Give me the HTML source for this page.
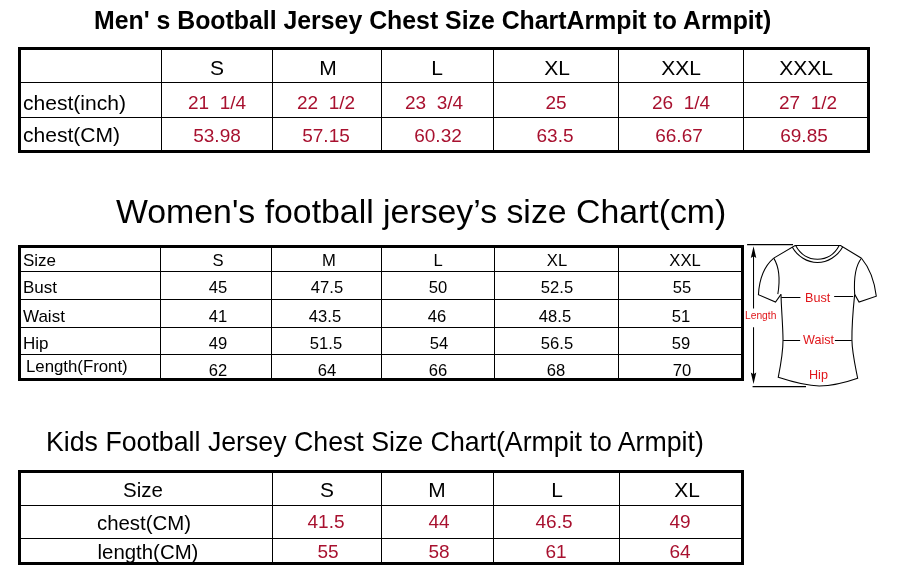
<!DOCTYPE html>
<html><head><meta charset="utf-8"><title>Size Chart</title>
<style>
html,body{margin:0;padding:0;background:#fff;}
body{width:901px;height:585px;position:relative;overflow:hidden;font-family:"Liberation Sans",sans-serif;}
.l{position:absolute;}
.t{position:absolute;white-space:nowrap;line-height:1.149;will-change:transform;}
</style></head><body>
<div class="t" style="top:6.85px;font-size:24.85px;color:#000;font-weight:bold;left:94.25px;">Men' s Bootball Jersey Chest Size ChartArmpit to Armpit)</div>
<div class="t" style="top:191.83px;font-size:33.82px;color:#000;left:115.60px;">Women's football jersey’s size Chart(cm)</div>
<div class="t" style="top:427.47px;font-size:26.73px;color:#000;left:46.00px;">Kids Football Jersey Chest Size Chart(Armpit to Armpit)</div>
<div class="l" style="left:18px;top:47px;width:852px;height:3px;background:#000"></div>
<div class="l" style="left:18px;top:150px;width:852px;height:3px;background:#000"></div>
<div class="l" style="left:18px;top:47px;width:3px;height:106px;background:#000"></div>
<div class="l" style="left:867px;top:47px;width:3px;height:106px;background:#000"></div>
<div class="l" style="left:161px;top:47px;width:1px;height:106px;background:#000"></div>
<div class="l" style="left:272px;top:47px;width:1px;height:106px;background:#000"></div>
<div class="l" style="left:381px;top:47px;width:1px;height:106px;background:#000"></div>
<div class="l" style="left:493px;top:47px;width:1px;height:106px;background:#000"></div>
<div class="l" style="left:618px;top:47px;width:1px;height:106px;background:#000"></div>
<div class="l" style="left:743px;top:47px;width:1px;height:106px;background:#000"></div>
<div class="l" style="left:18px;top:82px;width:852px;height:1px;background:#000"></div>
<div class="l" style="left:18px;top:117px;width:852px;height:1px;background:#000"></div>
<div class="t" style="top:56.35px;font-size:21px;color:#000;left:66.50px;width:300px;text-align:center;">S</div>
<div class="t" style="top:56.35px;font-size:21px;color:#000;left:178.30px;width:300px;text-align:center;">M</div>
<div class="t" style="top:56.35px;font-size:21px;color:#000;left:287.20px;width:300px;text-align:center;">L</div>
<div class="t" style="top:56.35px;font-size:21px;color:#000;left:407.30px;width:300px;text-align:center;">XL</div>
<div class="t" style="top:56.35px;font-size:21px;color:#000;left:531.00px;width:300px;text-align:center;">XXL</div>
<div class="t" style="top:56.35px;font-size:21px;color:#000;left:655.50px;width:300px;text-align:center;">XXXL</div>
<div class="t" style="top:91.99px;font-size:19px;color:#a8112f;left:66.50px;width:300px;text-align:center;">21&nbsp; 1/4</div>
<div class="t" style="top:91.99px;font-size:19px;color:#a8112f;left:176.00px;width:300px;text-align:center;">22&nbsp; 1/2</div>
<div class="t" style="top:91.99px;font-size:19px;color:#a8112f;left:284.00px;width:300px;text-align:center;">23&nbsp; 3/4</div>
<div class="t" style="top:91.99px;font-size:19px;color:#a8112f;left:405.90px;width:300px;text-align:center;">25</div>
<div class="t" style="top:91.99px;font-size:19px;color:#a8112f;left:530.50px;width:300px;text-align:center;">26&nbsp; 1/4</div>
<div class="t" style="top:91.99px;font-size:19px;color:#a8112f;left:657.70px;width:300px;text-align:center;">27&nbsp; 1/2</div>
<div class="t" style="top:124.59px;font-size:19px;color:#a8112f;left:66.50px;width:300px;text-align:center;">53.98</div>
<div class="t" style="top:124.59px;font-size:19px;color:#a8112f;left:176.00px;width:300px;text-align:center;">57.15</div>
<div class="t" style="top:124.59px;font-size:19px;color:#a8112f;left:287.50px;width:300px;text-align:center;">60.32</div>
<div class="t" style="top:124.59px;font-size:19px;color:#a8112f;left:404.90px;width:300px;text-align:center;">63.5</div>
<div class="t" style="top:124.59px;font-size:19px;color:#a8112f;left:528.50px;width:300px;text-align:center;">66.67</div>
<div class="t" style="top:124.59px;font-size:19px;color:#a8112f;left:653.80px;width:300px;text-align:center;">69.85</div>
<div class="t" style="top:91.20px;font-size:21.05px;color:#000;left:22.90px;">chest(inch)</div>
<div class="t" style="top:122.60px;font-size:21.05px;color:#000;left:22.90px;">chest(CM)</div>
<div class="l" style="left:18px;top:245px;width:726px;height:3px;background:#000"></div>
<div class="l" style="left:18px;top:378px;width:726px;height:3px;background:#000"></div>
<div class="l" style="left:18px;top:245px;width:3px;height:136px;background:#000"></div>
<div class="l" style="left:741px;top:245px;width:3px;height:136px;background:#000"></div>
<div class="l" style="left:160px;top:245px;width:1px;height:136px;background:#000"></div>
<div class="l" style="left:271px;top:245px;width:1px;height:136px;background:#000"></div>
<div class="l" style="left:381px;top:245px;width:1px;height:136px;background:#000"></div>
<div class="l" style="left:494px;top:245px;width:1px;height:136px;background:#000"></div>
<div class="l" style="left:618px;top:245px;width:1px;height:136px;background:#000"></div>
<div class="l" style="left:18px;top:271px;width:726px;height:1px;background:#000"></div>
<div class="l" style="left:18px;top:299px;width:726px;height:1px;background:#000"></div>
<div class="l" style="left:18px;top:327px;width:726px;height:1px;background:#000"></div>
<div class="l" style="left:18px;top:354px;width:726px;height:1px;background:#000"></div>
<div class="t" style="top:250.83px;font-size:17.0px;color:#000;left:23.40px;">Size</div>
<div class="t" style="top:250.80px;font-size:16.6px;color:#000;left:68.00px;width:300px;text-align:center;">S</div>
<div class="t" style="top:250.80px;font-size:16.6px;color:#000;left:179.00px;width:300px;text-align:center;">M</div>
<div class="t" style="top:250.80px;font-size:16.6px;color:#000;left:288.20px;width:300px;text-align:center;">L</div>
<div class="t" style="top:250.80px;font-size:16.6px;color:#000;left:407.20px;width:300px;text-align:center;">XL</div>
<div class="t" style="top:250.80px;font-size:16.6px;color:#000;left:534.50px;width:300px;text-align:center;">XXL</div>
<div class="t" style="top:277.83px;font-size:17.0px;color:#000;left:23.40px;">Bust</div>
<div class="t" style="top:278.10px;font-size:16.6px;color:#000;left:67.80px;width:300px;text-align:center;">45</div>
<div class="t" style="top:278.10px;font-size:16.6px;color:#000;left:177.00px;width:300px;text-align:center;">47.5</div>
<div class="t" style="top:278.10px;font-size:16.6px;color:#000;left:288.10px;width:300px;text-align:center;">50</div>
<div class="t" style="top:278.10px;font-size:16.6px;color:#000;left:406.80px;width:300px;text-align:center;">52.5</div>
<div class="t" style="top:278.10px;font-size:16.6px;color:#000;left:532.00px;width:300px;text-align:center;">55</div>
<div class="t" style="top:306.83px;font-size:17.0px;color:#000;left:23.40px;">Waist</div>
<div class="t" style="top:307.20px;font-size:16.6px;color:#000;left:67.80px;width:300px;text-align:center;">41</div>
<div class="t" style="top:307.20px;font-size:16.6px;color:#000;left:175.00px;width:300px;text-align:center;">43.5</div>
<div class="t" style="top:307.20px;font-size:16.6px;color:#000;left:287.00px;width:300px;text-align:center;">46</div>
<div class="t" style="top:307.20px;font-size:16.6px;color:#000;left:405.00px;width:300px;text-align:center;">48.5</div>
<div class="t" style="top:307.20px;font-size:16.6px;color:#000;left:530.50px;width:300px;text-align:center;">51</div>
<div class="t" style="top:333.53px;font-size:17.0px;color:#000;left:23.40px;">Hip</div>
<div class="t" style="top:334.00px;font-size:16.6px;color:#000;left:67.80px;width:300px;text-align:center;">49</div>
<div class="t" style="top:334.00px;font-size:16.6px;color:#000;left:175.60px;width:300px;text-align:center;">51.5</div>
<div class="t" style="top:334.00px;font-size:16.6px;color:#000;left:288.50px;width:300px;text-align:center;">54</div>
<div class="t" style="top:334.00px;font-size:16.6px;color:#000;left:406.80px;width:300px;text-align:center;">56.5</div>
<div class="t" style="top:334.00px;font-size:16.6px;color:#000;left:531.20px;width:300px;text-align:center;">59</div>
<div class="t" style="top:356.62px;font-size:16.8px;color:#000;left:26.30px;">Length(Front)</div>
<div class="t" style="top:361.00px;font-size:16.6px;color:#000;left:67.80px;width:300px;text-align:center;">62</div>
<div class="t" style="top:361.00px;font-size:16.6px;color:#000;left:176.60px;width:300px;text-align:center;">64</div>
<div class="t" style="top:361.00px;font-size:16.6px;color:#000;left:288.00px;width:300px;text-align:center;">66</div>
<div class="t" style="top:361.00px;font-size:16.6px;color:#000;left:405.50px;width:300px;text-align:center;">68</div>
<div class="t" style="top:361.00px;font-size:16.6px;color:#000;left:531.50px;width:300px;text-align:center;">70</div>
<div class="l" style="left:18px;top:470px;width:726px;height:3px;background:#000"></div>
<div class="l" style="left:18px;top:562px;width:726px;height:3px;background:#000"></div>
<div class="l" style="left:18px;top:470px;width:3px;height:95px;background:#000"></div>
<div class="l" style="left:741px;top:470px;width:3px;height:95px;background:#000"></div>
<div class="l" style="left:272px;top:470px;width:1px;height:95px;background:#000"></div>
<div class="l" style="left:381px;top:470px;width:1px;height:95px;background:#000"></div>
<div class="l" style="left:493px;top:470px;width:1px;height:95px;background:#000"></div>
<div class="l" style="left:619px;top:470px;width:1px;height:95px;background:#000"></div>
<div class="l" style="left:18px;top:505px;width:726px;height:1px;background:#000"></div>
<div class="l" style="left:18px;top:538px;width:726px;height:1px;background:#000"></div>
<div class="t" style="top:477.91px;font-size:20.5px;color:#000;left:-6.80px;width:300px;text-align:center;">Size</div>
<div class="t" style="top:478.14px;font-size:20.9px;color:#000;left:176.90px;width:300px;text-align:center;">S</div>
<div class="t" style="top:478.14px;font-size:20.9px;color:#000;left:287.30px;width:300px;text-align:center;">M</div>
<div class="t" style="top:478.14px;font-size:20.9px;color:#000;left:407.30px;width:300px;text-align:center;">L</div>
<div class="t" style="top:478.14px;font-size:20.9px;color:#000;left:537.00px;width:300px;text-align:center;">XL</div>
<div class="t" style="top:511.80px;font-size:20.4px;color:#000;left:-5.70px;width:300px;text-align:center;">chest(CM)</div>
<div class="t" style="top:540.70px;font-size:20.4px;color:#000;left:-2.40px;width:300px;text-align:center;">length(CM)</div>
<div class="t" style="top:511.09px;font-size:19px;color:#a8112f;left:175.60px;width:300px;text-align:center;">41.5</div>
<div class="t" style="top:511.09px;font-size:19px;color:#a8112f;left:288.80px;width:300px;text-align:center;">44</div>
<div class="t" style="top:511.09px;font-size:19px;color:#a8112f;left:403.60px;width:300px;text-align:center;">46.5</div>
<div class="t" style="top:511.09px;font-size:19px;color:#a8112f;left:529.80px;width:300px;text-align:center;">49</div>
<div class="t" style="top:541.09px;font-size:19px;color:#a8112f;left:177.90px;width:300px;text-align:center;">55</div>
<div class="t" style="top:541.09px;font-size:19px;color:#a8112f;left:288.80px;width:300px;text-align:center;">58</div>
<div class="t" style="top:541.09px;font-size:19px;color:#a8112f;left:405.70px;width:300px;text-align:center;">61</div>
<div class="t" style="top:541.09px;font-size:19px;color:#a8112f;left:529.80px;width:300px;text-align:center;">64</div>
<svg style="position:absolute;left:740px;top:235px" width="161" height="160" viewBox="0 0 589 585" fill="none" stroke="#000" stroke-width="3.9" stroke-linecap="butt" stroke-linejoin="miter">
<path d="M26 34.7 H194 M46 554.8 H241.5" stroke-width="4.4"/>
<path d="M49.5 70 V269 M49.5 337 V515" stroke-width="3.8"/>
<path d="M49.5 41 L39.5 84 L49.5 78 L59.5 84 Z M49.5 545 L39.5 503 L49.5 509 L59.5 503 Z" fill="#000" stroke="none"/>
<path d="M123.4 84.5 L201.5 38.3 H367.8 L444.5 85"/>
<path d="M204 39.5 C222 72 252 88.8 283.4 88.8 C315 88.8 345 72 362.5 39.5"/>
<path d="M191 44 C210 78 246 100.5 283.4 100.5 C320 100.5 357 78 376 43"/>
<path d="M123.4 84.5 C84 118 70 170 67.4 218.5 L129.9 245 L149.9 217"/>
<path d="M123.4 84.5 C142 115 147 165 138.4 216"/>
<path d="M444.5 85 C472 118 492 170 498.6 223.5 L435.5 245 L419.5 217"/>
<path d="M444.5 85 C422 112 416 160 419.5 217"/>
<path d="M150 217 C151 270 157 330 157.4 384 C157.5 430 148 480 139.9 520.6 C190 537 240 552 290 552 C340 552 385 540 430.5 524 C422 480 410 430 409.5 384 C409 340 413 280 419.5 217"/>
<path d="M151 228.5 H221 M344.5 225 H414 M158 385.6 H220 M347 385.6 H409" stroke-width="3.8"/>
</svg>
<div class="t" style="top:309.85px;font-size:10.25px;color:#e0161a;left:745.40px;">Length</div>
<div class="t" style="top:291.39px;font-size:12.6px;color:#e0161a;left:804.90px;">Bust</div>
<div class="t" style="top:333.49px;font-size:12.6px;color:#e0161a;left:802.90px;">Waist</div>
<div class="t" style="top:367.89px;font-size:12.6px;color:#e0161a;left:809.20px;">Hip</div>
</body></html>
